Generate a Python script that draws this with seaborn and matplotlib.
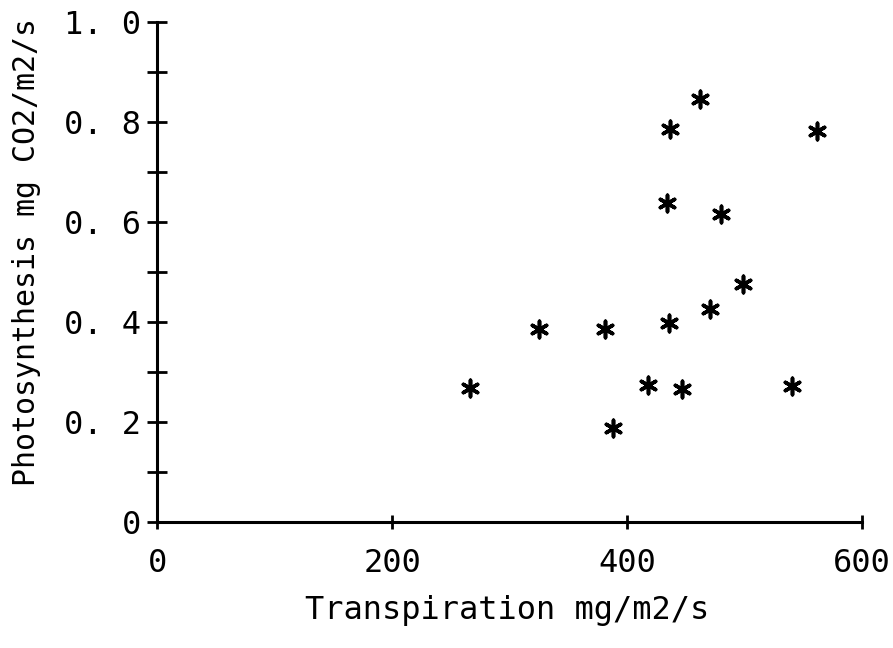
import matplotlib
matplotlib.use("Agg")
import matplotlib.pyplot as plt
import seaborn as sns
import pandas as pd
from matplotlib.ticker import MultipleLocator

transpiration = [266, 325, 381, 388, 418, 436, 471, 499, 447, 540, 462, 437, 562, 434, 480]
photosynthesis = [0.268, 0.386, 0.386, 0.188, 0.274, 0.398, 0.426, 0.476, 0.266, 0.272,
                  0.846, 0.786, 0.782, 0.638, 0.616]
x_ticks = [0, 200, 400, 600]
y_ticks = [0, 0.2, 0.4, 0.6, 0.8, 1.0]
y_tick_labels = ["0", "0. 2", "0. 4", "0. 6", "0. 8", "1. 0"]
x_label = "Transpiration mg/m2/s"
y_label = "Photosynthesis mg CO2/m2/s"

sns.set_style("ticks")
plt.rcParams["font.family"] = ["DejaVu Sans Mono", "DejaVu Sans"]

df = pd.DataFrame({"x": transpiration, "y": photosynthesis})

fig = plt.figure(figsize=(8.93, 6.48), dpi=100)
ax = fig.add_axes([157 / 893, 1 - 522 / 648, (862 - 157) / 893, (522 - 22) / 648])

sns.scatterplot(data=df, x="x", y="y", ax=ax, marker=(6, 2, 0), s=140,
                color="black", edgecolor="black", linewidth=2.6, legend=False, clip_on=False)

ax.set_xlim(0, 600)
ax.set_ylim(0, 1.0)
ax.set_xticks(x_ticks)
ax.set_xticklabels([str(v) for v in x_ticks])
ax.set_yticks(y_ticks)
ax.set_yticklabels(y_tick_labels)
ax.yaxis.set_minor_locator(MultipleLocator(0.1))

for s in ["top", "right"]:
    ax.spines[s].set_visible(False)
for s in ["left", "bottom"]:
    ax.spines[s].set_linewidth(2.2)
    ax.spines[s].set_color("black")

ax.tick_params(axis="y", which="both", direction="inout", length=15, width=2,
               labelsize=23, pad=4, colors="black")
ax.tick_params(axis="x", which="both", direction="inout", length=10, width=2,
               labelsize=23, pad=14, colors="black")
ax.tick_params(axis="x", which="minor", length=0)

ax.set_xlabel(x_label, fontsize=23, color="black")
ax.set_ylabel(y_label, fontsize=21.5, color="black")
ax.xaxis.set_label_coords(0.496, -0.145)
ax.yaxis.set_label_coords(-0.165, 0.54)

fig.savefig("out.png", dpi=100)
